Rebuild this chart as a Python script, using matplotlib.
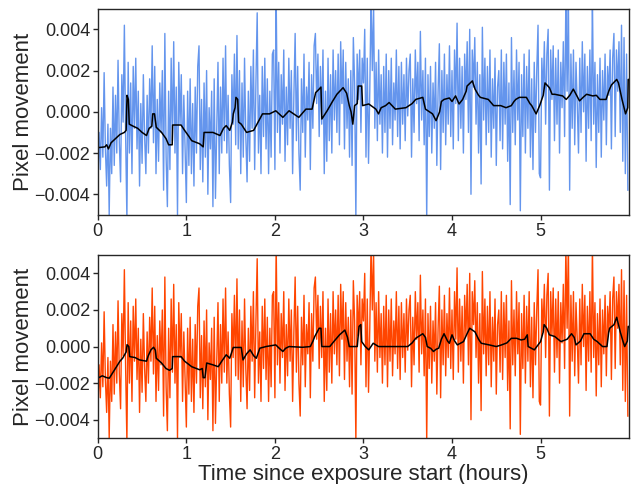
import numpy as np
import matplotlib
matplotlib.use("Agg")
import matplotlib.pyplot as plt

# pixel movement samples, in units of 1e-4 px, 70 samples per hour (one row per hour)
movement = [
    # 0-1 h
    -35, -10, -28, 2, -22, 19, -18, -36, -6, -50,
    -8, -30, 12, -26, 8, -20, 25, -15, -34, 18,
    -5, 42, -12, -52, 24, -20, 14, -30, 22, -8,
    26, -18, 10, -36, 4, -25, 18, -12, -30, 8,
    -20, 16, -8, 32, -15, 22, -30, 6, -24, 14,
    -10, 20, -38, 38, -22, -46, 10, -28, 26, -14,
    34, -20, 12, -50, 24, -6, 18, -30, 8, -18,
    # 1-2 h
    -44, 10, -26, 16, -30, 4, -36, 12, -20, 22,
    32, -28, 6, -34, 14, -22, 20, -40, 2, -18,
    10, -46, 16, -42, -8, 24, -30, 12, -20, 26,
    -14, 32, -20, 8, -26, -44, 18, -6, 28, -16,
    37, -18, 20, -30, 14, -22, 26, -12, -34, 10,
    -24, 22, -8, 30, -28, 14, 48, -20, 8, -30,
    22, -12, 26, -18, 16, -30, 10, -22, 28, 30,
    # 2-3 h
    -28, 56, -10, 24, -20, 18, -6, 30, -24, 12,
    -16, 26, -8, 20, -30, 8, 38, -14, 22, -20,
    -38, 16, -10, 28, -22, 12, -4, 24, -28, 18,
    -8, 32, 38, 4, 28, -12, 22, -6, 30, -30,
    10, -24, 26, -14, 18, -20, 30, -4, 20, -10,
    28, -16, 34, 4, 30, -18, 24, -8, 16, -22,
    20, -26, 36, 14, -52, 28, 6, 30, -10, 26,
    # 3-4 h
    14, 40, -22, 26, -25, 10, 55, 20, 52, -8,
    24, -14, 30, -6, 18, -20, 22, -10, 28, -22,
    20, -8, 26, -16, 14, -4, 30, -12, 22, -18,
    24, -6, 18, -14, 26, -2, 20, 28, -22, 16,
    -10, 30, 4, 24, -14, 39, -4, 20, -16, 26,
    -52, 18, -12, 22, -20, 14, -8, 24, -26, 10,
    33, -28, 20, -10, 28, -16, 18, -6, 32, -12,
    # 4-5 h
    20, -18, 30, 4, 43, -14, 26, -8, 22, -20,
    28, 6, 34, -10, 40, -40, 30, 12, 36, -6,
    24, -20, 18, -35, 41, -4, 26, -16, 22, -10,
    30, -22, 16, -8, 26, -26, 12, 20, -14, 30,
    -18, 24, -6, 28, -24, 14, -45, 36, -10, 20,
    -16, 30, -4, 24, -48, 18, -12, 28, -20, 22,
    -8, 30, -22, 16, -28, 24, -10, 20, 42, -30,
    # 5-6 h
    -32, 26, 8, 34, -6, 28, 40, -38, 30, 6,
    32, -14, 26, -6, 30, -20, 24, 2, 34, -12,
    55, 10, 56, -38, 28, -8, 30, -16, 24, 4,
    -20, 26, -10, 34, 0, 28, -24, 22, -8, 30,
    -14, 55, -6, 24, -27, 18, -10, 26, -22, 20,
    -4, 28, -16, 22, 8, 30, -18, 26, 38, -12,
    30, 10, 34, -10, 42, -24, 36, -30, 28, -38,
]
samples_per_hour = 70

# running median, top panel (time in hours, value in 1e-4 px)
med_top_t = [0.0, 0.08, 0.1, 0.12, 0.15, 0.2, 0.25, 0.3, 0.32, 0.33, 0.345, 0.355,
             0.4, 0.45, 0.5, 0.55, 0.58, 0.61, 0.62, 0.64, 0.66, 0.72, 0.77, 0.8,
             0.84, 0.845, 0.94, 0.98, 1.03, 1.06, 1.15, 1.19, 1.2, 1.3, 1.38, 1.42,
             1.45, 1.49, 1.52, 1.53, 1.55, 1.56, 1.58, 1.59, 1.62, 1.68, 1.76, 1.81,
             1.86, 1.94, 2.01, 2.09, 2.16, 2.27, 2.35, 2.42, 2.46, 2.5, 2.52, 2.53,
             2.59, 2.65, 2.7, 2.77, 2.81, 2.84, 2.86, 2.88, 2.9, 2.93, 2.94, 2.98,
             2.99, 3.06, 3.14, 3.17, 3.2, 3.25, 3.29, 3.36, 3.48, 3.55, 3.59, 3.67,
             3.7, 3.78, 3.82, 3.86, 3.88, 3.91, 3.97, 4.0, 4.04, 4.08, 4.12, 4.16,
             4.17, 4.23, 4.26, 4.3, 4.32, 4.41, 4.45, 4.47, 4.55, 4.61, 4.67, 4.7,
             4.72, 4.76, 4.84, 4.88, 4.9, 4.95, 4.99, 5.03, 5.05, 5.1, 5.13, 5.16,
             5.25, 5.29, 5.33, 5.37, 5.41, 5.44, 5.48, 5.52, 5.59, 5.63, 5.67, 5.74,
             5.77, 5.8, 5.86, 5.88, 5.92, 5.96, 5.985, 5.99, 6.0]
med_top = [-17.4, -17, -16, -18, -15, -13, -11, -10, -9, 8, 6, -6,
           -7, -8, -10, -11.5, -8, -7, -1, -1, -7.5, -10, -13, -16,
           -16, -6.4, -6.4, -9, -12, -14, -15.5, -17, -10, -10, -11.5, -8,
           -6.7, -9, -5, -1, 2, 7, 6, -5, -6, -10, -9, -5,
           -1, -1, 0.5, -2.7, 0.5, -2.7, 1.3, 1.3, 9.3, 11, 12, -3.5,
           0.5, 5, 8.5, 11.7, 9, 3, 0, -6, 3, 4, 12.5, 12.5,
           3, 3.8, 1.3, -1, 2, 3, 4.5, 1.3, 2, 4, 6, 7,
           1.3, -1, -4.3, 0, 5, 6, 6.7, 5, 7.7, 3.8, 6, 10,
           12.5, 15, 11, 8, 7, 6, 4, 3, 3, 2, 3, 5,
           6, 7, 7, 4, 3, -1, 3, 8, 14, 11.7, 8.5, 8.5,
           7.7, 6, 8, 11, 7.7, 5.3, 7, 8.5, 7.7, 8, 6, 6,
           10, 13, 15.7, 14, 6, -1, 2, 15.7, 15.7]

# running median, bottom panel
med_bot_t = [0.0, 0.05, 0.1, 0.13, 0.19, 0.25, 0.28, 0.32, 0.33, 0.35, 0.36, 0.42,
             0.47, 0.55, 0.57, 0.6, 0.63, 0.65, 0.66, 0.72, 0.77, 0.81, 0.84, 0.845,
             0.94, 0.98, 1.06, 1.15, 1.18, 1.19, 1.21, 1.23, 1.3, 1.36, 1.4, 1.45,
             1.49, 1.52, 1.53, 1.62, 1.64, 1.68, 1.72, 1.76, 1.79, 1.83, 1.9, 2.01,
             2.05, 2.09, 2.12, 2.16, 2.31, 2.4, 2.43, 2.45, 2.5, 2.52, 2.53, 2.62,
             2.67, 2.73, 2.79, 2.82, 2.84, 2.93, 2.95, 2.97, 2.98, 3.02, 3.06, 3.11,
             3.17, 3.5, 3.55, 3.59, 3.67, 3.7, 3.72, 3.76, 3.79, 3.82, 3.85, 3.88,
             3.91, 3.95, 3.97, 4.0, 4.03, 4.06, 4.13, 4.17, 4.2, 4.26, 4.3, 4.33,
             4.42, 4.5, 4.56, 4.62, 4.67, 4.73, 4.78, 4.82, 4.85, 4.86, 4.93, 5.0,
             5.03, 5.04, 5.07, 5.1, 5.16, 5.23, 5.3, 5.35, 5.38, 5.4, 5.45, 5.49,
             5.56, 5.6, 5.64, 5.7, 5.75, 5.77, 5.78, 5.83, 5.86, 5.88, 5.9, 5.93,
             5.95, 5.98, 5.99, 6.0]
med_bot = [-17.3, -16, -17, -17.3, -12.7, -8, -6.4, -3, 1, 0, -5.5, -6,
           -7.3, -8, -5, -1.8, -0.4, -2, -6.4, -9, -12, -13, -12, -5.5,
           -5.5, -8, -11, -12.7, -12, -17, -17, -9, -10, -11, -8, -4.5,
           -6.4, -2, -0.5, -0.5, -7.3, -4, -1.8, -5, -6.4, -0.9, 0, 0.9,
           -1, -2.7, -1, 0, -0.4, 0, 3, 5.5, 10, 10, 0, 0,
           3, 6.4, 9, 5, 0, 0, 11, 12, 2.7, 0, -1.8, 1.8,
           0, 0, 2, 4.5, 7, 5, 0, -1, -2.7, -1.5, -0.9, 4,
           7, 3, 1.8, 6.4, 3, 0.9, 2.7, 7, 10, 8, 4, 1.8,
           0.9, 0, 0.9, 2, 4.5, 4.5, 3.6, 4, 6.4, 0, -1.8, 2.7,
           8, 12, 10, 6.4, 5.5, 2.7, 4, 7, 5, 0.9, 3, 7,
           7, 4, 2.7, 0, 0, 8, 10, 12, 16, 12, 8, 3,
           0, 3, 11, 11]

scale = 1e-4
y = np.array(movement) * scale
t = np.arange(len(y)) / samples_per_hour

plt.rcParams['font.family'] = ['Liberation Sans', 'DejaVu Sans']
text_col = '#262626'

fig = plt.figure(figsize=(6.31, 4.84), dpi=100)
ax1 = fig.add_axes([0.155, 0.556, 0.842, 0.426])
ax2 = fig.add_axes([0.155, 0.095, 0.842, 0.378])

ax1.plot(t, y, color='cornflowerblue', lw=1.0)
ax1.plot(med_top_t, np.array(med_top) * scale, color='black', lw=1.1)
ax2.plot(t, y, color='orangered', lw=1.0)
ax2.plot(med_bot_t, np.array(med_bot) * scale, color='black', lw=1.1)

for ax in (ax1, ax2):
    ax.set_xlim(0, 6.0)
    ax.set_ylim(-0.005, 0.005)
    ax.set_yticks([-0.004, -0.002, 0.0, 0.002, 0.004])
    ax.set_yticklabels(['\u22120.004', '\u22120.002', '0.000', '0.002', '0.004'])
    ax.set_xticks([0, 1, 2, 3, 4, 5])
    ax.tick_params(labelsize=13, colors=text_col, length=3.5, width=1.0,
                   direction='out', pad=2)
    ax.set_ylabel('Pixel movement', fontsize=16, color=text_col, labelpad=0.5)
    for s in ax.spines.values():
        s.set_color(text_col)
        s.set_linewidth(1.0)

ax2.set_xlabel('Time since exposure start (hours)', fontsize=16, color=text_col, labelpad=1)

fig.savefig('out.png', dpi=100)
